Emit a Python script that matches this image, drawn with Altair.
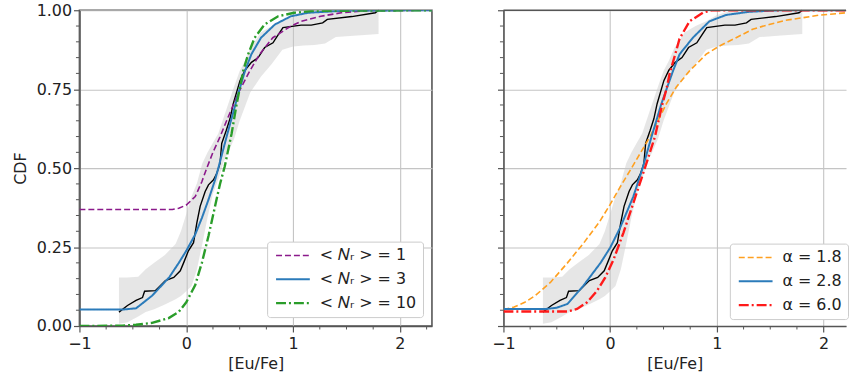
import altair as alt
import pandas as pd

FONT = "DejaVu Sans"

# ---------------- data ----------------
# empirical CDF (black, same in both panels)
emp_x = [-0.63, -0.55, -0.47, -0.41, -0.39, -0.29, -0.195, -0.117, -0.056, -0.025, 0.02, 0.068,
         0.099, 0.13, 0.177, 0.208, 0.255, 0.286, 0.316, 0.332, 0.375, 0.41, 0.44, 0.503, 0.55,
         0.61, 0.673, 0.734, 0.812, 0.843, 0.905, 1.075, 1.17, 1.277, 1.32, 1.55, 1.77, 1.8]
emp_y = [0.044, 0.065, 0.081, 0.09, 0.11, 0.112, 0.144, 0.154, 0.175, 0.20, 0.238, 0.264,
         0.327, 0.379, 0.426, 0.447, 0.463, 0.484, 0.515, 0.578, 0.62, 0.657, 0.704, 0.777, 0.81,
         0.835, 0.85, 0.882, 0.897, 0.913, 0.945, 0.953, 0.953, 0.96, 0.971, 0.98, 0.992, 1.0]

# grey uncertainty band
band_x = [-0.63, -0.55, -0.45, -0.38, -0.3, -0.2, -0.1, -0.05, 0.0, 0.05, 0.1, 0.15, 0.2, 0.25,
          0.3, 0.35, 0.4, 0.45, 0.5, 0.55, 0.6, 0.7, 0.8, 0.9, 1.0, 1.1, 1.2, 1.3, 1.4, 1.6, 1.8]
band_hi = [0.154, 0.154, 0.156, 0.18, 0.20, 0.225, 0.26, 0.30, 0.355, 0.41, 0.452, 0.515, 0.55,
           0.58, 0.61, 0.66, 0.71, 0.76, 0.808, 0.84, 0.88, 0.93, 0.95, 0.965, 0.985, 0.995, 1.0,
           1.0, 1.0, 1.0, 1.0]
band_lo = [0.007, 0.012, 0.03, 0.044, 0.053, 0.068, 0.085, 0.095, 0.11, 0.127, 0.18, 0.26, 0.345,
           0.42, 0.465, 0.52, 0.555, 0.595, 0.65, 0.695, 0.74, 0.79, 0.83, 0.875, 0.885, 0.888,
           0.89, 0.895, 0.915, 0.92, 0.925]

# left panel models
n1_x = [-1.0, -0.13, -0.07, 0.0, 0.084, 0.146, 0.192, 0.25, 0.316, 0.38, 0.44, 0.49, 0.595,
        0.688, 0.81, 0.98, 1.075, 1.26, 1.45, 1.69, 2.3]
n1_y = [0.369, 0.369, 0.373, 0.383, 0.41, 0.457, 0.50, 0.55, 0.599, 0.652, 0.70, 0.74, 0.808,
        0.861, 0.913, 0.95, 0.965, 0.981, 0.992, 0.999, 1.0]
n3_x = [-1.0, -0.6, -0.47, -0.32, -0.16, -0.07, 0.0, 0.084, 0.146, 0.208, 0.27, 0.30, 0.378,
        0.462, 0.49, 0.55, 0.61, 0.70, 0.83, 0.98, 1.14, 1.5, 2.3]
n3_y = [0.052, 0.052, 0.056, 0.096, 0.154, 0.20, 0.238, 0.29, 0.342, 0.40, 0.463, 0.50, 0.60,
        0.704, 0.74, 0.808, 0.861, 0.913, 0.955, 0.981, 0.992, 0.999, 1.0]
n10_x = [-1.0, -0.6, -0.47, -0.32, -0.164, -0.07, 0.0, 0.084, 0.146, 0.208, 0.27, 0.316, 0.36,
         0.425, 0.47, 0.533, 0.58, 0.64, 0.734, 0.86, 1.01, 1.2, 2.3]
n10_y = [0.0, 0.001, 0.004, 0.01, 0.025, 0.045, 0.075, 0.13, 0.20, 0.285, 0.38, 0.45, 0.505,
         0.61, 0.70, 0.808, 0.861, 0.913, 0.955, 0.981, 0.992, 0.998, 1.0]

# right panel models
a18_x = [-1.0, -0.9, -0.8, -0.7, -0.56, -0.4, -0.25, -0.1, 0.0, 0.093, 0.2, 0.372, 0.527, 0.62,
         0.744, 0.90, 1.025, 1.18, 1.335, 1.49, 1.64, 1.80, 1.95, 2.21]
a18_y = [0.052, 0.06, 0.075, 0.097, 0.138, 0.20, 0.262, 0.33, 0.385, 0.44, 0.50, 0.599, 0.704,
         0.757, 0.808, 0.861, 0.887, 0.913, 0.94, 0.955, 0.968, 0.976, 0.984, 0.992]
a28_x = [-1.0, -0.6, -0.5, -0.4, -0.25, -0.09, 0.0, 0.093, 0.217, 0.304, 0.388, 0.48, 0.589,
         0.651, 0.775, 0.93, 1.085, 1.3, 1.6, 2.21]
a28_y = [0.054, 0.054, 0.058, 0.07, 0.128, 0.20, 0.248, 0.311, 0.41, 0.50, 0.60, 0.704, 0.808,
         0.861, 0.913, 0.965, 0.985, 0.995, 1.0, 1.0]
a60_x = [-1.0, -0.4, -0.31, -0.217, -0.124, -0.047, 0.031, 0.124, 0.217, 0.325, 0.419, 0.49,
         0.527, 0.558, 0.605, 0.65, 0.744, 0.868, 0.95, 2.21]
a60_y = [0.046, 0.046, 0.054, 0.075, 0.111, 0.153, 0.21, 0.295, 0.389, 0.50, 0.599, 0.704,
         0.75, 0.80, 0.855, 0.91, 0.965, 0.992, 1.0, 1.0]

left_labels = ["< 𝑁ᵣ > = 1", "< 𝑁ᵣ > = 3", "< 𝑁ᵣ > = 10"]
right_labels = ["α = 1.8", "α = 2.8", "α = 6.0"]

x_major = [-1, 0, 1, 2]
y_major = [0, 0.25, 0.5, 0.75, 1]
x_minor_left = [-0.75, -0.5, -0.25, 0.25, 0.5, 0.75, 1.25, 1.5, 1.75, 2.25]
x_minor_right = [-0.75, -0.5, -0.25, 0.25, 0.5, 0.75, 1.25, 1.5, 1.75]
y_minor = [0.05, 0.1, 0.15, 0.2, 0.3, 0.35, 0.4, 0.45, 0.55, 0.6, 0.65, 0.7, 0.8, 0.85, 0.9, 0.95]

# ---------------- styling ----------------
SPINE = "#555555"
TXT = "#222222"
FS = 16
H = 318
W_LEFT = 355
W_RIGHT = 345


def models_df(labels, xs, ys):
    rows = []
    for lab, xv, yv in zip(labels, xs, ys):
        for a, b in zip(xv, yv):
            rows.append({"x": a, "y": b, "model": lab})
    return pd.DataFrame(rows)


emp_df = pd.DataFrame({"x": emp_x, "y": emp_y})
band_df = pd.DataFrame({"x": band_x, "lo": band_lo, "hi": band_hi})
ymin_df = pd.DataFrame({"v": y_minor})


def panel(mdf, labels, colors, dashes, widths, xdomain, lx, ly, show_labels, xminor):
    xs = alt.Scale(domain=xdomain, nice=False, zero=False)
    ys = alt.Scale(domain=[0, 1], nice=False, zero=False)
    xaxis = alt.Axis(values=x_major, format="d", title="[Eu/Fe]", grid=True, gridColor="#c4c4c4",
                     gridWidth=1.1, domain=True, domainColor=SPINE, domainWidth=1.6,
                     tickSize=6, tickColor=SPINE, tickWidth=1.2, labelPadding=4,
                     titleBaseline="bottom", titleY=46,
                     labelFlush=False, labelFontSize=FS, titleFontSize=FS)
    if show_labels:
        yaxis = alt.Axis(values=y_major, format=".2f", title="CDF", grid=True, gridColor="#c4c4c4",
                         gridWidth=1.1, domain=True, domainColor=SPINE, domainWidth=1.6,
                         tickSize=6, tickColor=SPINE, tickWidth=1.2, labelPadding=2,
                         titlePadding=8, labelFontSize=FS, titleFontSize=FS)
    else:
        yaxis = alt.Axis(values=y_major, labels=False, grid=True, gridColor="#c4c4c4",
                         gridWidth=1.1, domain=True, domainColor=SPINE, domainWidth=1.6,
                         tickSize=6, tickColor=SPINE, tickWidth=1.2)
    ytitle = "CDF" if show_labels else None

    band = alt.Chart(band_df).mark_area(color="#c8c8c8", opacity=0.45).encode(
        x=alt.X("x:Q", scale=xs, axis=xaxis, title="[Eu/Fe]"),
        y=alt.Y("lo:Q", scale=ys, axis=yaxis, title=ytitle),
        y2="hi:Q",
    )
    emp = alt.Chart(emp_df).mark_line(color="black", strokeWidth=1.4).encode(
        x=alt.X("x:Q", scale=xs), y=alt.Y("y:Q", scale=ys)
    )
    leg = alt.Legend(title=None, orient="none", legendX=lx, legendY=ly,
                     symbolType="M-3.4,0H3.4", symbolSize=100, symbolOffset=12,
                     labelFont=FONT, labelFontSize=FS, labelColor=TXT, labelOffset=19,
                     rowPadding=8, padding=6, fillColor="white", strokeColor="#cccccc",
                     cornerRadius=3)
    lines = alt.Chart(mdf).mark_line(clip=True).encode(
        x=alt.X("x:Q", scale=xs),
        y=alt.Y("y:Q", scale=ys),
        color=alt.Color("model:N", scale=alt.Scale(domain=labels, range=colors), legend=leg),
        strokeDash=alt.StrokeDash("model:N", scale=alt.Scale(domain=labels, range=dashes), legend=leg),
        strokeWidth=alt.StrokeWidth("model:N", scale=alt.Scale(domain=labels, range=widths), legend=leg),
    )
    xm = alt.Chart(pd.DataFrame({"v": xminor})).mark_rule(color=SPINE, strokeWidth=1).encode(
        x=alt.X("v:Q", scale=xs), y=alt.value(H), y2=alt.value(H + 3.5)
    )
    ym = alt.Chart(ymin_df).mark_rule(color=SPINE, strokeWidth=1).encode(
        y=alt.Y("v:Q", scale=ys), x=alt.value(0), x2=alt.value(-3.5)
    )
    return [band, emp, lines, xm, ym]


left_df = models_df(left_labels, [n1_x, n3_x, n10_x], [n1_y, n3_y, n10_y])
right_df = models_df(right_labels, [a18_x, a28_x, a60_x], [a18_y, a28_y, a60_y])

left = alt.layer(*panel(left_df, left_labels, ["#8b1a8b", "#2b7bba", "#2a9d2a"],
                        [[6, 3], [1, 0], [10, 3, 2, 3]], [1.6, 2.4, 1.6],
                        [-1, 2.3], 189, 233, True, x_minor_left)).properties(width=W_LEFT, height=H)

right_layers = panel(right_df, right_labels, ["#ffa020", "#2b7bba", "#ff1a1a"],
                     [[6, 3], [1, 0], [10, 3, 2, 3]], [1.6, 2.4, 1.6],
                     [-1, 2.21], 228, 235, False, x_minor_right)
top_rule = alt.Chart(pd.DataFrame({"k": [0]})).mark_rule(color=SPINE, strokeWidth=1.6).encode(
    x=alt.value(0), x2=alt.value(W_RIGHT), y=alt.value(0)
)
right = alt.layer(*right_layers, top_rule).properties(
    width=W_RIGHT, height=H, view=alt.ViewBackground(stroke="transparent")
)

chart = (
    alt.hconcat(left, right, spacing=58)
    .resolve_scale(color="independent", strokeDash="independent", strokeWidth="independent")
    .resolve_legend(color="independent", strokeDash="independent", strokeWidth="independent")
    .properties(padding={"left": 11, "top": 0, "right": 0, "bottom": 0}, background="white")
    .configure_view(stroke=SPINE, strokeWidth=1.6)
    .configure_axis(labelFont=FONT, titleFont=FONT, labelColor=TXT, titleColor=TXT,
                    titleFontWeight="normal")
)

chart.save("out.html", embed_options={"renderer": "svg", "actions": False})
